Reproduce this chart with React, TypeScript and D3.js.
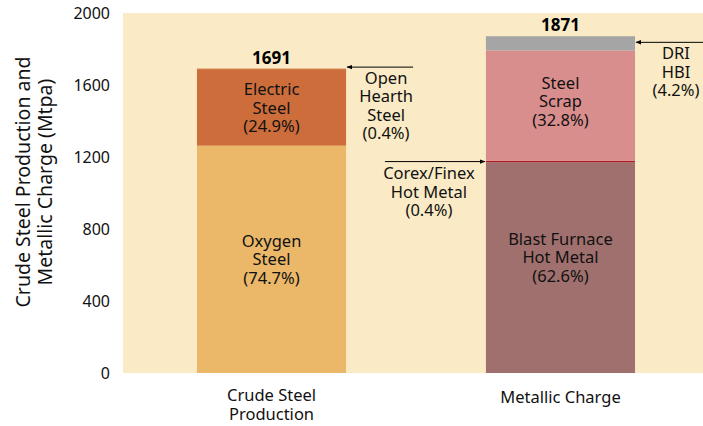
import React, { useEffect, useRef } from 'react';
import * as d3 from 'd3';

const categories = ['Crude Steel Production', 'Metallic Charge'];
const categoryLines = [['Crude Steel', 'Production'], ['Metallic Charge']];
const totals = [1691, 1871];

const crudeNames = [['Oxygen', 'Steel'], ['Electric', 'Steel'], ['Open', 'Hearth', 'Steel']];
const crudeValues = [1263, 421, 7];
const crudeShares = ['74.7%', '24.9%', '0.4%'];

const chargeNames = [['Blast Furnace', 'Hot Metal'], ['Corex/Finex', 'Hot Metal'], ['Steel', 'Scrap'], ['DRI', 'HBI']];
const chargeValues = [1171, 7, 614, 79];
const chargeShares = ['62.6%', '0.4%', '32.8%', '4.2%'];

const yTicks = [0, 400, 800, 1200, 1600, 2000];

const crudeColors = ['#ebb86a', '#cd6d3b', '#cd6d3b'];
const chargeColors = ['#a0706e', '#b01e2c', '#d98e8e', '#a5a5a5'];

const FONT = "'Noto Sans', 'Open Sans', sans-serif";

const App = () => {
    const svgRef = useRef(null);
    const width = 703;
    const height = 426;

    useEffect(() => {
        const svg = d3.select(svgRef.current);
        svg.selectAll('*').remove();

        const plot = { left: 123, right: 703, top: 13, bottom: 373 };

        const x = d3.scaleBand()
            .domain(categories)
            .range([plot.left, 709])
            .paddingInner(0.484)
            .paddingOuter(0.256);

        const y = d3.scaleLinear()
            .domain([0, 2000])
            .range([plot.bottom, plot.top]);

        const defs = svg.append('defs');
        defs.append('marker')
            .attr('id', 'arrow')
            .attr('viewBox', '0 0 10 10')
            .attr('refX', 9)
            .attr('refY', 5)
            .attr('markerWidth', 6)
            .attr('markerHeight', 6)
            .attr('markerUnits', 'userSpaceOnUse')
            .attr('orient', 'auto')
            .append('path')
            .attr('d', 'M0,1 L10,5 L0,9 Z')
            .attr('fill', '#000');

        // plot background
        svg.append('rect')
            .attr('x', plot.left)
            .attr('y', plot.top)
            .attr('width', plot.right - plot.left)
            .attr('height', plot.bottom - plot.top)
            .attr('fill', '#faebc6');

        // y tick labels
        svg.append('g')
            .selectAll('text')
            .data(yTicks)
            .enter()
            .append('text')
            .attr('x', 110)
            .attr('y', d => y(d))
            .attr('dy', '0.35em')
            .attr('text-anchor', 'end')
            .style('font-family', FONT)
            .style('font-size', '16px')
            .attr('fill', '#111')
            .text(d => d);

        // y title
        const yTitle = svg.append('text')
            .attr('transform', `translate(0,182) rotate(-90)`)
            .attr('text-anchor', 'middle')
            .style('font-family', FONT)
            .style('font-size', '19.5px')
            .attr('fill', '#111');
        yTitle.append('tspan').attr('x', 0).attr('y', 30).text('Crude Steel Production and');
        yTitle.append('tspan').attr('x', 0).attr('y', 52).text('Metallic Charge (Mtpa)');

        const multiline = (g, lines, cx, cy0, lh, size, weight?) => {
            const t = g.append('text')
                .attr('text-anchor', 'middle')
                .style('font-family', FONT)
                .style('font-size', size + 'px')
                .style('font-weight', weight || 'normal')
                .attr('fill', '#111');
            lines.forEach((l, i) => {
                t.append('tspan')
                    .attr('x', cx)
                    .attr('y', cy0 + i * lh)
                    .attr('dy', '0.35em')
                    .text(l);
            });
        };

        const stacks = [
            { names: crudeNames, values: crudeValues, shares: crudeShares, colors: crudeColors },
            { names: chargeNames, values: chargeValues, shares: chargeShares, colors: chargeColors },
        ];

        const bars = svg.append('g');
        const labels = svg.append('g');
        const lh = 18.4;

        stacks.forEach((s, ci) => {
            const cat = categories[ci];
            const x0 = x(cat);
            const bw = x.bandwidth();
            let acc = 0;
            s.values.forEach((v, si) => {
                const y0 = acc;
                const y1 = acc + v;
                acc = y1;
                bars.append('rect')
                    .attr('x', x0)
                    .attr('y', y(y1))
                    .attr('width', bw)
                    .attr('height', y(y0) - y(y1))
                    .attr('fill', s.colors[si]);

                const lines = [...s.names[si], `(${s.shares[si]})`];
                const yTop = y(y1);
                const yMid = (y(y0) + y(y1)) / 2;
                const block = lh * (lines.length - 1) / 2;
                if (ci === 0 && si < 2) {
                    multiline(labels, lines, x0 + bw / 2, yMid - block, lh, 16.5);
                } else if (ci === 1 && si === 0) {
                    multiline(labels, lines, x0 + bw / 2, yMid - 10 - block, lh, 16.5);
                } else if (ci === 1 && si === 2) {
                    multiline(labels, lines, x0 + bw / 2, yMid - 4 - block, lh, 16.5);
                } else if (ci === 0 && si === 2) {
                    // open hearth: arrow from the right
                    labels.append('line')
                        .attr('x1', x0 + bw + 67).attr('y1', yTop - 1.5)
                        .attr('x2', x0 + bw + 1).attr('y2', yTop - 1.5)
                        .attr('stroke', '#000').attr('stroke-width', 1)
                        .attr('marker-end', 'url(#arrow)');
                    multiline(labels, lines, x0 + bw + 40, yTop + 9.5, lh, 16.5);
                } else if (ci === 1 && si === 1) {
                    const ya = yMid;
                    labels.append('line')
                        .attr('x1', x0 - 101).attr('y1', ya)
                        .attr('x2', x0 - 1).attr('y2', ya)
                        .attr('stroke', '#000').attr('stroke-width', 1)
                        .attr('marker-end', 'url(#arrow)');
                    multiline(labels, lines, x0 - 57, ya + 12, lh, 16.5);
                } else if (ci === 1 && si === 3) {
                    const ya = yMid - 1;
                    labels.append('line')
                        .attr('x1', 703).attr('y1', ya)
                        .attr('x2', x0 + bw + 1).attr('y2', ya)
                        .attr('stroke', '#000').attr('stroke-width', 1)
                        .attr('marker-end', 'url(#arrow)');
                    multiline(labels, lines, x0 + bw + 41, ya + 11, lh, 16.5);
                }
            });

            // total on top
            labels.append('text')
                .attr('x', x0 + bw / 2)
                .attr('y', y(totals[ci]) - 11)
                .attr('dy', '0.35em')
                .attr('text-anchor', 'middle')
                .style('font-family', FONT)
                .style('font-size', '17px')
                .style('font-weight', 'bold')
                .attr('fill', '#000')
                .text(totals[ci]);

            // category label
            multiline(labels, categoryLines[ci], x0 + bw / 2, ci === 0 ? 395 : 397, 19, 16.5);
        });
    }, []);

    return (
        <svg ref={svgRef} width={width} height={height}
            style={{ position: 'absolute', left: 0, top: 0, background: '#fff' }}></svg>
    );
};

export default App;
